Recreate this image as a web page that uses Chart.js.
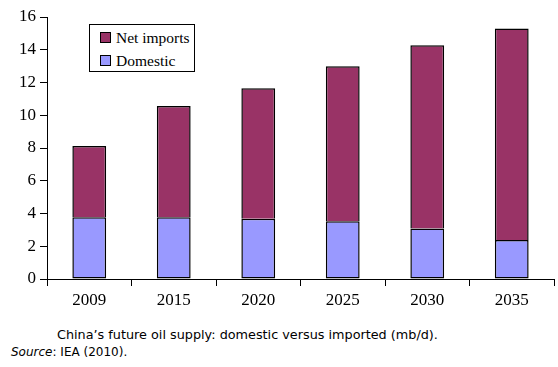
<!DOCTYPE html>
<html>
<head>
<meta charset="utf-8">
<script src="https://cdn.jsdelivr.net/npm/chart.js@4/dist/chart.umd.min.js"></script>
<style>
  html, body { margin: 0; padding: 0; background: #fff; }
  #wrap { position: relative; width: 558px; height: 367px; overflow: hidden; }
  #c { position: absolute; left: 0; top: 0; }
  #legend { position: absolute; left: 89px; top: 24px; width: 104px; height: 46px; border: 1px solid #000; background: #fff;
            font-family: "Liberation Serif", "Times New Roman", serif; font-size: 15.5px; color: #000; }
  .item { position: absolute; left: 10px; height: 18px; line-height: 18px; white-space: nowrap; }
  .sw { display: inline-block; width: 9px; height: 9px; border: 1px solid #000; margin-right: 5px; vertical-align: 0px; }
  #cap { position: absolute; left: 57px; top: 327px; font-family: "DejaVu Sans", sans-serif; font-size: 12.8px; color: #000; white-space: nowrap; }
  #src { position: absolute; left: 11px; top: 345px; font-family: "DejaVu Sans", sans-serif; font-size: 12px; color: #000; white-space: nowrap; }
</style>
</head>
<body>
<div id="wrap">
  <canvas id="c" width="558" height="310"></canvas>
  <div id="legend"></div>
  <div id="cap">China’s future oil supply: domestic versus imported (mb/d).</div>
  <div id="src"><i>Source</i>: IEA (2010).</div>
</div>
<script>
const categories = ["2009", "2015", "2020", "2025", "2030", "2035"];
const domestic = [3.77, 3.77, 3.68, 3.52, 3.09, 2.38];
const netImports = [4.35, 6.79, 7.97, 9.47, 11.18, 12.92];
const yTicks = [0, 2, 4, 6, 8, 10, 12, 14, 16];
const seriesNames = ["Domestic", "Net imports"];
const seriesColors = ["#9999FF", "#993366"];

const tickFont = { family: "'Liberation Serif', 'Times New Roman', serif", size: 17 };

const chart = new Chart(document.getElementById("c"), {
  type: "bar",
  data: {
    labels: categories,
    datasets: [
      { label: seriesNames[0], data: domestic, backgroundColor: seriesColors[0], borderColor: "#000", borderWidth: 1.5, borderSkipped: false },
      { label: seriesNames[1], data: netImports, backgroundColor: seriesColors[1], borderColor: "#000", borderWidth: 1.5, borderSkipped: "bottom" }
    ]
  },
  options: {
    responsive: false,
    animation: false,
    devicePixelRatio: 1,
    layout: { padding: { top: 17, right: 4, left: 0, bottom: 0 } },
    plugins: { legend: { display: false }, tooltip: { enabled: false } },
    datasets: { bar: { barPercentage: 0.4, categoryPercentage: 1.0 } },
    scales: {
      x: {
        stacked: true,
        offset: true,
        grid: { offset: true, drawOnChartArea: false, drawTicks: true, tickLength: 7, color: "#000", lineWidth: 1 },
        border: { display: true, color: "#000", width: 1 },
        ticks: { color: "#000", font: tickFont, padding: 4, maxRotation: 0 },
        afterFit: (s) => { s.height = 31; }
      },
      y: {
        stacked: true,
        min: 0, max: 16,
        afterBuildTicks: (s) => { s.ticks = yTicks.map(v => ({ value: v })); },
        grid: { drawOnChartArea: false, drawTicks: true, tickLength: 7, color: "#000", lineWidth: 1 },
        border: { display: true, color: "#000", width: 1 },
        ticks: { color: "#000", font: tickFont, padding: 4 },
        afterFit: (s) => { s.width = 47; }
      }
    }
  }
});

// legend built from the dataset definitions (Net imports listed first)
const lg = document.getElementById("legend");
[1, 0].forEach((i, row) => {
  const d = document.createElement("div");
  d.className = "item";
  d.style.top = (4 + row * 23) + "px";
  const sw = document.createElement("span");
  sw.className = "sw";
  sw.style.background = seriesColors[i];
  d.appendChild(sw);
  d.appendChild(document.createTextNode(seriesNames[i]));
  lg.appendChild(d);
});
</script>
</body>
</html>
